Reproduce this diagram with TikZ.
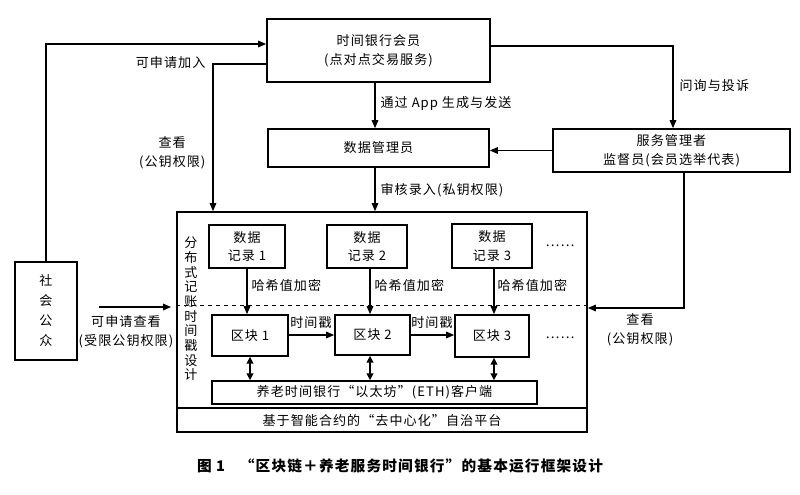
\documentclass[tikz,border=0pt]{standalone}
\usepackage{fontspec}
\setmainfont[LetterSpace=8]{Noto Sans CJK SC}
\usetikzlibrary{arrows.meta,fit}
\newcommand\fs{\fontsize{9.8}{14}\selectfont}
\tikzset{
 box/.style={draw, line width=1.3pt, inner sep=0pt},
 arr/.style={line width=0.8pt, -{Triangle[length=6pt,width=5pt]}},
 darr/.style={line width=1pt, {Triangle[length=5pt,width=5pt]}-{Triangle[length=5pt,width=5pt]}},
 lbl/.style={font=\fs, align=center, inner sep=1pt},
}
\begin{document}
\begin{tikzpicture}[x=0.75pt,y=-0.75pt]
\useasboundingbox (0,0) rectangle (800,494);
% main boxes
\node[box, fit={(267,19) (490,82)}] (mem) {};
\node[lbl] (memt) at (mem.center) {时间银行会员\\(点对点交易服务)};
\node[box, fit={(268,129) (489,167)}] (dm) {};
\node[lbl] (dmt) at (dm.center) {数据管理员};
\node[box, fit={(553,129) (790,172)}] (svc) {};
\node[lbl] (svct) at (svc.center) {服务管理者\\监督员(会员选举代表)};
\node[box, fit={(15,262) (77,360)}] (pub) {};
\node[lbl, font=\fontsize{9.8}{15}\selectfont] (pubt) at (pub.center) {社\\会\\公\\众};
\node[box, fit={(177,212) (587,408)}] (dist) {};
\node[box, fit={(177,408) (587,432)}] (plat) {};
\node[lbl] (platt) at (plat.center) {基于智能合约的“去中心化”自治平台};
% inside
\node[lbl, font=\fontsize{9.8}{11}\selectfont] (vt) at (191,309) {分\\布\\式\\记\\账\\时\\间\\戳\\设\\计};
\node[box, fit={(209,225) (285,268)}] (r1) {};
\node[lbl] (r1t) at (r1.center) {数据\\记录 1};
\node[box, fit={(327,225) (407,268)}] (r2) {};
\node[lbl] (r2t) at (r2.center) {数据\\记录 2};
\node[box, fit={(452,224) (532,268)}] (r3) {};
\node[lbl] (r3t) at (r3.center) {数据\\记录 3};
\node[lbl] (d1) at (560,246) {……};
\node[box, fit={(212,315) (288,356)}] (b1) {};
\node[lbl] (b1t) at (b1.center) {区块 1};
\node[box, fit={(335,315) (410,355)}] (b2) {};
\node[lbl] (b2t) at (b2.center) {区块 2};
\node[box, fit={(455,315) (529,357)}] (b3) {};
\node[lbl] (b3t) at (b3.center) {区块 3};
\node[lbl] (d2) at (560,338) {……};
\node[box, fit={(212,381) (537,404)}] (eth) {};
\node[lbl] (etht) at (eth.center) {养老时间银行“以太坊”(ETH)客户端};
\draw[dashed, line width=0.7pt] (dist.west |- 0,305) -- (dist.east |- 0,305);
% record -> block
\draw[arr] (r1.south) -- (r1.south |- b1.north);
\draw[arr] (r2.south -| 370,0) -- (b2.north -| 370,0);
\draw[arr] (r3.south -| 494,0) -- (b3.north -| 494,0);
\node[lbl, anchor=west] (h1) at (250,285) {哈希值加密};
\node[lbl, anchor=west] (h2) at (373,285) {哈希值加密};
\node[lbl, anchor=west] (h3) at (496,285) {哈希值加密};
% block chain
\draw[arr] (b1.east |- 0,335) -- (b2.west |- 0,335);
\draw[arr] (b2.east |- 0,335) -- (b3.west |- 0,335);
\node[lbl] (s1) at (311,323) {时间戳};
\node[lbl] (s2) at (432,323) {时间戳};
\draw[darr] (b1.south) -- (b1.south |- eth.north);
\draw[darr] (b2.south -| 370,0) -- (eth.north -| 370,0);
\draw[darr] (b3.south -| 494,0) -- (eth.north -| 494,0);
% outer connectors
\draw[arr] (pub.north) |- (mem.west |- 0,44);
\draw[arr] (mem.west |- 0,64) -| (dist.north -| 213,0);
\node[lbl, anchor=east] (l1) at (207,63) {可申请加入};
\node[lbl, anchor=east] (l2) at (207,153) {查看\\(公钥权限)};
\draw[arr] (mem.south -| 375,0) -- (dm.north -| 375,0);
\node[lbl, anchor=west] (l3) at (379,103) {通过 App 生成与发送};
\draw[arr] (dm.south -| 375,0) -- (dist.north -| 375,0);
\node[lbl, anchor=west] (l4) at (379,190) {审核录入(私钥权限)};
\draw[arr] (mem.east |- 0,46) -| (svc.north -| 673,0);
\node[lbl, anchor=west] (l5) at (678,86) {问询与投诉};
\draw[arr] (svc.west) -- (svc.west -| dm.east);
\draw[arr] (svc.south -| 684,0) |- (dist.east |- 0,308);
\node[lbl] (l6) at (640,330) {查看\\(公钥权限)};
\coordinate (qa) at (99,307);
\coordinate (qb) at (171,307);
\draw[arr] (qa) -- (qb);
\node[lbl] (l7) at (126,332) {可申请查看\\(受限公钥权限)};
% caption
\node[font=\bfseries\fontsize{11}{13}\selectfont] (cap) at (400,466) {图 1\quad “区块链＋养老服务时间银行”的基本运行框架设计};
\end{tikzpicture}
\end{document}
